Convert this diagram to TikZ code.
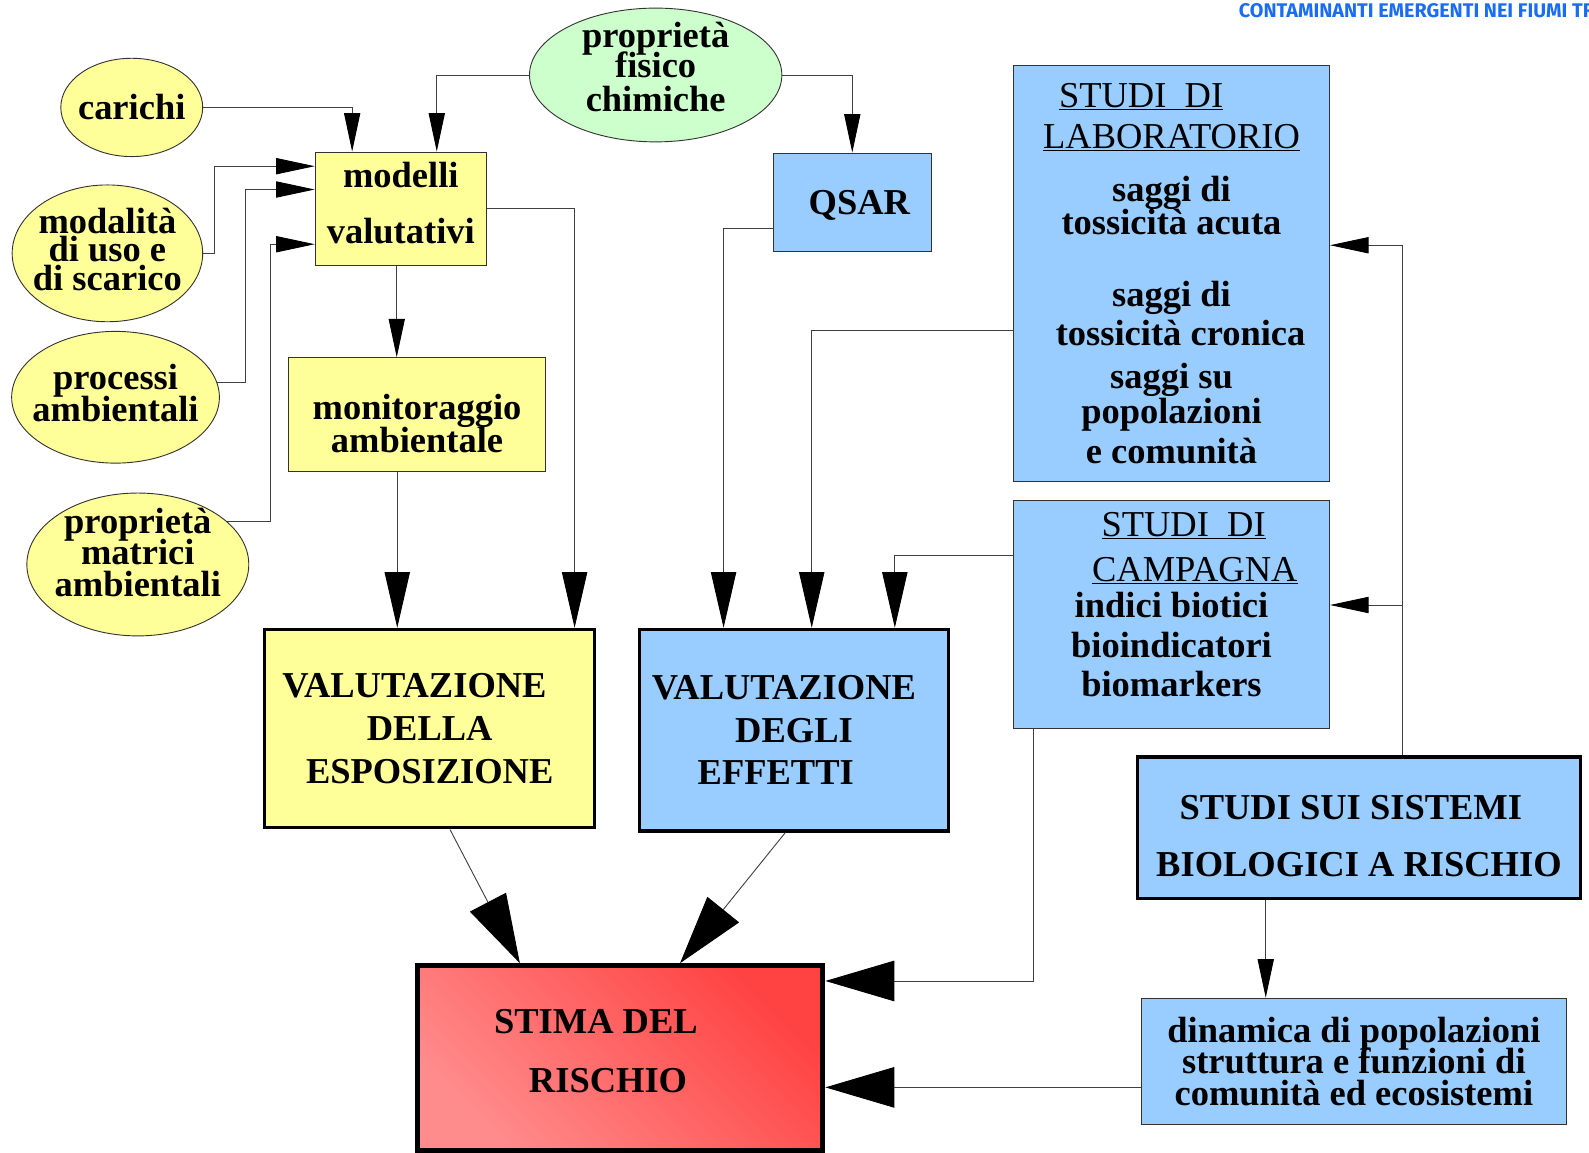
\documentclass[tikz,border=0pt]{standalone}
\usepackage{fontspec}
\setmainfont{Liberation Serif}
\newfontfamily\headfont{Fira Sans}
\usepackage{tikz}
\usetikzlibrary{shapes.geometric, arrows.meta}

\definecolor{giallo}{HTML}{FFFF99}
\definecolor{verde}{HTML}{CCFFCC}
\definecolor{azzurro}{HTML}{99CCFF}
\definecolor{rossochiaro}{HTML}{FF8C8C}
\definecolor{rossoscuro}{HTML}{FF4242}
\definecolor{blutitolo}{HTML}{1A6CF5}

\lineskiplimit=-100pt
\lineskip=0pt

\tikzstyle{bubble} = [ellipse, draw=black!80, line width=0.9pt, fill=giallo, inner sep=-20pt, align=center, font=\fontsize{36}{30}\selectfont\bfseries]
\tikzstyle{greenbubble} = [bubble, fill=verde]
\tikzstyle{process} = [rectangle, draw=black!80, line width=0.9pt, fill=giallo, inner sep=0pt, align=center, font=\fontsize{36}{32}\selectfont\bfseries]
\tikzstyle{study} = [process, fill=azzurro]
\tikzstyle{result} = [process, draw=black, line width=3pt]
\tikzstyle{arrow} = [draw=black!75, line width=0.9pt, -{Triangle[length=38pt, width=16pt, color=black]}]
\tikzstyle{midarrow} = [arrow, -{Triangle[length=55pt, width=25pt, color=black]}]
\tikzstyle{bigarrow} = [arrow, -{Triangle[length=68pt, width=40pt, color=black]}]

\begin{document}
\begin{tikzpicture}[x=1pt, y=-1pt]
	\useasboundingbox (0,0) rectangle (1568,1137);

	\node (titolo) [anchor=west, text=blutitolo, font=\headfont\fontsize{19.5}{19.5}\selectfont\bfseries] at (1219,11) {CONTAMINANTI EMERGENTI NEI FIUMI TR};

	\node (carichi) [bubble, minimum width=140, minimum height=97] at (130,106) {carichi};
	\node (modalita) [bubble, minimum width=188, minimum height=135] at (106,250) {modalità\\[-2pt]di uso e\\[-2pt]di scarico\rule[-8pt]{0pt}{8pt}};
	\node (processi) [bubble, minimum width=205, minimum height=130] at (114,392) {processi\\[2pt]ambientali\rule[-9pt]{0pt}{9pt}};
	\node (matrici) [bubble, minimum width=219, minimum height=141] at (136,557) {proprietà\\[1pt]matrici\\[1pt]ambientali\rule[-24pt]{0pt}{24pt}};
	\node (fisico) [greenbubble, minimum width=249, minimum height=132] at (647,74) {proprietà\\fisico\\[4pt]chimiche\rule[-16pt]{0pt}{16pt}};

	\node (modelli) [process, minimum width=169, minimum height=112, font=\fontsize{36}{40}\selectfont\bfseries] at (395.5,206) {modelli\\[15pt]valutativi\rule[-12pt]{0pt}{12pt}};
	\node (monitoraggio) [process, minimum width=253, minimum height=112] at (411.5,409) {\rule{0pt}{43pt}monitoraggio\\ambientale};
	\node (esposizione) [result, minimum width=326, minimum height=196, font=\fontsize{36}{42.5}\selectfont\bfseries] at (424,719) {VALUTAZIONE\hspace*{30pt}\\DELLA\hspace*{14pt}\\ESPOSIZIONE};

	\node (qsar) [study, minimum width=156, minimum height=97] at (841,199.5) {\hspace*{14pt}\rule{0pt}{30pt}QSAR};
	\node (effetti) [result, fill=azzurro, minimum width=305, minimum height=199, font=\fontsize{36}{42}\selectfont\bfseries] at (783.5,720.5) {VALUTAZIONE\hspace*{20pt}\\DEGLI\hspace*{36pt}\\EFFETTI\hspace*{36pt}};

	\node (laboratorio) [study, minimum width=312, minimum height=410, font=\fontsize{36}{36}\selectfont\bfseries] at (1156,270) {\underline{\mdseries STUDI~~DI}\hspace*{60pt}\\[4pt]\underline{\mdseries LABORATORIO}\\[17pt]saggi di\\[-4pt]tossicità acuta\\[35pt]saggi di\\[3pt]\hspace*{18pt}tossicità cronica\\[6pt]saggi su\\[-1pt]popolazioni\\[3pt]e comunità};
	\node (campagna) [study, minimum width=312, minimum height=225, font=\fontsize{36}{39}\selectfont\bfseries] at (1156,606.5) {\hspace*{24pt}\underline{\mdseries STUDI~~DI}\\[5pt]\hspace*{46pt}\underline{\mdseries CAMPAGNA}\\[-3pt]indici biotici\\bioindicatori\\biomarkers\rule[-20pt]{0pt}{20pt}};
	\node (sistemi) [result, fill=azzurro, minimum width=438, minimum height=140, font=\fontsize{36}{40}\selectfont\bfseries] at (1341,817) {\rule{0pt}{40pt}STUDI SUI SISTEMI\hspace*{16pt}\\[16pt]BIOLOGICI A RISCHIO};
	\node (dinamica) [study, minimum width=420, minimum height=125, font=\fontsize{36}{31.5}\selectfont\bfseries] at (1336,1047.5) {dinamica di popolazioni\\struttura e funzioni di\\comunità ed ecosistemi};

	\node (stima) [result, line width=5pt, minimum width=400, minimum height=182, top color=rossoscuro, bottom color=rossochiaro, shading angle=-45, font=\fontsize{36}{40}\selectfont\bfseries] at (612,1044) {STIMA DEL\hspace*{48pt}\\[19pt]RISCHIO\hspace*{24pt}\rule[-14pt]{0pt}{14pt}};

	\draw [arrow] (carichi.east) -| ([xshift=-48]modelli.north);
	\draw [arrow] (fisico.west) -| ([xshift=35.5]modelli.north);
	\draw [arrow] (fisico.east) -| (qsar.north);

	\draw [arrow] (modalita.east) -| ([xshift=-99, yshift=42]modelli.west) -- ([yshift=42]modelli.west);
	\draw [arrow] (processi.8) -| ([xshift=-68, yshift=19]modelli.west) -- ([yshift=19]modelli.west);
	\draw [arrow] (matrici.26) -| ([xshift=-44, yshift=-35]modelli.west) -- ([yshift=-35]modelli.west);

	\draw [arrow] ([xshift=-4]modelli.south) -- ([xshift=-20]monitoraggio.north);
	\draw [midarrow] (modelli.east) -| ([xshift=143]esposizione.north);
	\draw [midarrow] ([xshift=-19.5]monitoraggio.south) -- ([xshift=-32]esposizione.north);

	\draw [midarrow] ([yshift=-26]qsar.west) -| ([xshift=-69.5]effetti.north);
	\draw [midarrow] ([yshift=-56]laboratorio.west) -| ([xshift=17.5]effetti.north);
	\draw [midarrow] ([yshift=58.5]campagna.west) -| ([xshift=99.5]effetti.north);

	\draw [arrow] ([xshift=43]sistemi.north) |- ([yshift=28]laboratorio.east);
	\draw [arrow] ([xshift=43]sistemi.north) |- ([yshift=9.5]campagna.east);
	\draw [arrow] ([xshift=-92]sistemi.south) -- ([xshift=-87]dinamica.north);

	\draw [bigarrow] ([xshift=-136]campagna.south) |- ([yshift=76]stima.east);
	\draw [bigarrow] ([yshift=-25.5]dinamica.west) -- ([yshift=-29]stima.east);
	\draw [bigarrow] ([xshift=20]esposizione.south) -- ([xshift=-99]stima.north);
	\draw [bigarrow] ([xshift=-8.5]effetti.south) -- ([xshift=59]stima.north);

\end{tikzpicture}
\end{document}
